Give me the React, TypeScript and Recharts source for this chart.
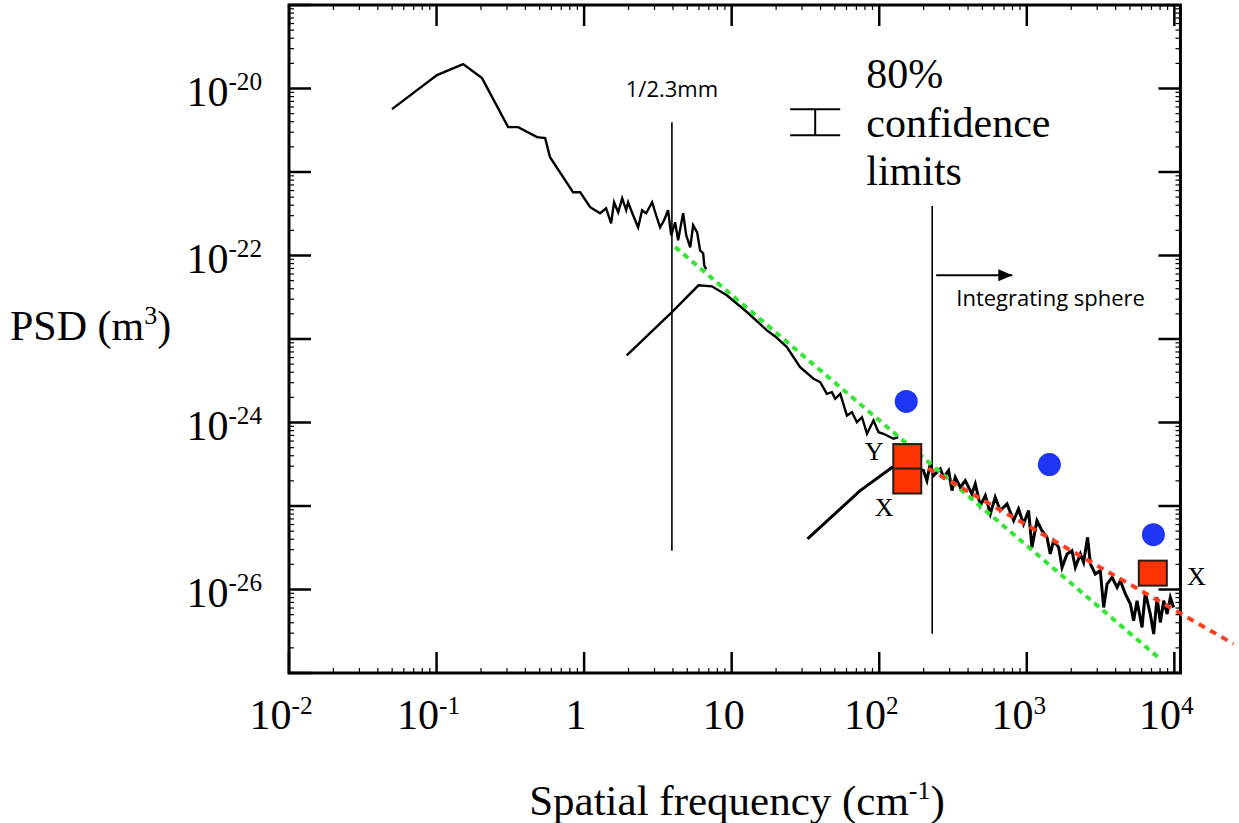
import { ComposedChart, Line, Scatter, XAxis, YAxis, ReferenceArea } from "recharts";

const SERIF = '"Liberation Serif", "Times New Roman", serif';
const SANS = '"Open Sans", "DejaVu Sans", sans-serif';

// All values are log10: spatial frequency (cm^-1) and PSD (m^3).
// large-scale profile
const wideLogF = [-1.302, -0.997, -0.82, -0.692, -0.515, -0.447, -0.319, -0.264, -0.231, -0.129, -0.075, -0.027, 0.041, 0.108, 0.149, 0.183, 0.203, 0.231, 0.258, 0.285, 0.298, 0.332, 0.366, 0.393, 0.42, 0.461, 0.488, 0.515, 0.542, 0.569, 0.59, 0.617, 0.637, 0.671, 0.692, 0.719, 0.739, 0.766, 0.786, 0.807, 0.814, 0.827];
const wideLogPsd = [-20.247, -19.839, -19.707, -19.875, -20.463, -20.463, -20.583, -20.595, -20.823, -21.098, -21.242, -21.242, -21.422, -21.494, -21.434, -21.614, -21.362, -21.482, -21.314, -21.458, -21.362, -21.518, -21.662, -21.458, -21.494, -21.362, -21.518, -21.662, -21.578, -21.458, -21.758, -21.602, -21.818, -21.494, -21.758, -21.902, -21.638, -21.722, -21.938, -21.974, -22.118, -22.165];

// mid-scale profile
const midLogF = [0.289, 0.595, 0.775, 0.866, 0.967, 1.103, 1.239, 1.295, 1.374, 1.464, 1.555, 1.6, 1.645, 1.679, 1.702, 1.736, 1.781, 1.815, 1.849, 1.883, 1.917, 1.961, 1.995, 2.029, 2.097, 2.129];
const midLogPsd = [-23.197, -22.677, -22.357, -22.369, -22.477, -22.677, -22.897, -22.969, -23.097, -23.337, -23.476, -23.517, -23.656, -23.637, -23.716, -23.656, -23.916, -23.876, -23.996, -23.936, -24.135, -23.976, -24.116, -24.135, -24.195, -24.176];

// fine-scale profile
const fineLogF = [1.514, 1.871, 2.086, 2.176, 2.3, 2.323, 2.346, 2.368, 2.414, 2.436, 2.47, 2.493, 2.515, 2.549, 2.583, 2.628, 2.651, 2.685, 2.719, 2.753, 2.786, 2.82, 2.866, 2.911, 2.944, 2.978, 3.012, 3.035, 3.069, 3.103, 3.137, 3.159, 3.182, 3.216, 3.239, 3.273, 3.306, 3.329, 3.363, 3.385, 3.412, 3.431, 3.464, 3.498, 3.521, 3.544, 3.578, 3.612, 3.634, 3.668, 3.702, 3.724, 3.747, 3.781, 3.803, 3.837, 3.86, 3.883, 3.905, 3.928, 3.951, 3.973, 3.995];
const fineLogPsd = [-25.394, -24.815, -24.539, -24.527, -24.575, -24.695, -24.495, -24.635, -24.555, -24.656, -24.575, -24.815, -24.656, -24.776, -24.695, -24.855, -24.735, -24.995, -24.875, -25.095, -24.896, -25.055, -24.975, -25.175, -25.035, -25.215, -25.055, -25.495, -25.175, -25.295, -25.375, -25.574, -25.415, -25.495, -25.735, -25.574, -25.535, -25.735, -25.574, -25.675, -25.375, -25.694, -25.814, -25.774, -26.215, -25.934, -25.855, -25.975, -25.894, -26.054, -26.174, -26.374, -26.134, -26.454, -26.035, -26.294, -26.533, -26.095, -26.394, -26.134, -26.294, -26.095, -26.215];

// power-law guides
const steepFitLogF = [0.617, 3.892];
const steepFitLogPsd = [-21.898, -26.814];
const shallowFitLogF = [2.332, 4.4];
const shallowFitLogPsd = [-24.552, -26.65];

// integrating sphere points and X/Y scan points
const sphereLogF = [2.183, 3.153, 3.858];
const sphereLogPsd = [-23.748, -24.504, -25.343];
const scanLogF = [2.19, 2.19, 3.854];
const scanLogPsd = [-24.408, -24.701, -25.804];

// vertical markers and arrow
const cutoffLogF = [0.595, 0.595];
const cutoffLogPsd = [-20.403, -25.535];
const sphereEdgeLogF = [2.359, 2.359];
const sphereEdgeLogPsd = [-21.406, -26.53];
const arrowLogF = [2.386, 2.902];
const arrowLogPsd = [-22.237, -22.237];
const limitsLogF = [1.566];
const limitsLogPsd = [-20.403];

// annotation text anchors
const noteText = ["1/2.3mm", "80%", "confidence", "limits", "Integrating sphere", "Y", "X", "X"];
const noteLogF = [0.595, 1.912, 1.912, 1.912, 2.522, 1.966, 2.034, 4.149];
const noteLogPsd = [-20.103, -19.995, -20.583, -21.158, -22.609, -24.455, -25.115, -25.942];
const noteKind = ["sansMid", "serif", "serif", "serif", "sans", "tag", "tag", "tag"];

// axes
const X_MAJOR = [1e-2, 1e-1, 1, 10, 1e2, 1e3, 1e4];
const X_LABELS = ["10^-2", "10^-1", "1", "10", "10^2", "10^3", "10^4"];
const Y_MAJOR = [1e-19, 1e-20, 1e-21, 1e-22, 1e-23, 1e-24, 1e-25, 1e-26, 1e-27];
const Y_LABELED = [1e-20, 1e-22, 1e-24, 1e-26];
const Y_LABELS = ["10^-20", "10^-22", "10^-24", "10^-26"];

const X_MIN = 1e-2;
const X_MAX = 2.7e4; // plot runs past the frame so the f^-1 guide can spill out
const FRAME_X = 1.1e4;
const Y_MIN = 1e-27;
const Y_MAX = 1e-19;

const NOTE_STYLE: Record<string, { font: string; size: number; anchor: string }> = {
  sansMid: { font: SANS, size: 22, anchor: "middle" },
  sans: { font: SANS, size: 22, anchor: "start" },
  serif: { font: SERIF, size: 42, anchor: "start" },
  tag: { font: SERIF, size: 26, anchor: "middle" },
};

const near = (a: number, b: number) => Math.abs(Math.log10(a) - Math.log10(b)) < 1e-6;
const toPoints = (lf: number[], lp: number[]) => lf.map((v, i) => ({ f: Math.pow(10, v), p: Math.pow(10, lp[i]) }));

const withMinors = (majors: number[]) => {
  const sorted = [...majors].sort((a, b) => a - b);
  const out = [...sorted];
  for (let i = 0; i < sorted.length - 1; i++) {
    for (let k = 2; k <= 9; k++) out.push(sorted[i] * k);
  }
  return out;
};

const xTicks = withMinors(X_MAJOR);
const yTicks = withMinors(Y_MAJOR);

const power = (label: string, size: number) => {
  const [base, exp] = label.split("^");
  return (
    <>
      <tspan>{base}</tspan>
      {exp && (
        <tspan dy={-size * 0.36} fontSize={size * 0.6}>
          {exp}
        </tspan>
      )}
    </>
  );
};

const XTick = ({ x, y, payload }: any) => {
  const i = X_MAJOR.findIndex((m) => near(m, payload.value));
  const major = i >= 0;
  return (
    <g>
      <line x1={x} x2={x} y1={y} y2={y - (major ? 21 : 5)} stroke="#000" strokeWidth={major ? 2.5 : 1.2} />
      {major && (
        <text x={x - 8} y={y + 56} textAnchor="middle" fontFamily={SERIF} fontSize={42} fill="#000">
          {power(X_LABELS[i], 42)}
        </text>
      )}
    </g>
  );
};

const YTick = ({ x, y, payload }: any) => {
  const major = Y_MAJOR.some((m) => near(m, payload.value));
  const li = Y_LABELED.findIndex((m) => near(m, payload.value));
  return (
    <g>
      <line x1={x} x2={x + (major ? 22 : 5)} y1={y} y2={y} stroke="#000" strokeWidth={major ? 2.5 : 1.2} />
      {li >= 0 && (
        <text x={x - 27} y={y + 17} textAnchor="end" fontFamily={SERIF} fontSize={42} fill="#000">
          {power(Y_LABELS[li], 42)}
        </text>
      )}
    </g>
  );
};

const wide = toPoints(wideLogF, wideLogPsd);
const mid = toPoints(midLogF, midLogPsd);
const fine = toPoints(fineLogF, fineLogPsd);
const steepFit = toPoints(steepFitLogF, steepFitLogPsd);
const shallowFit = toPoints(shallowFitLogF, shallowFitLogPsd);
const spheres = toPoints(sphereLogF, sphereLogPsd);
const scans = toPoints(scanLogF, scanLogPsd);
const cutoff = toPoints(cutoffLogF, cutoffLogPsd);
const sphereEdge = toPoints(sphereEdgeLogF, sphereEdgeLogPsd);
const arrow = toPoints(arrowLogF, arrowLogPsd);
const arrowTip = arrow.slice(1);
const limits = toPoints(limitsLogF, limitsLogPsd);
const notes = toPoints(noteLogF, noteLogPsd).map((pt, i) => ({ ...pt, text: noteText[i], kind: noteKind[i] }));

const topTicks = xTicks.map((v) => ({ f: v, p: Y_MAX, major: X_MAJOR.some((m) => near(m, v)) }));
const rightTicks = yTicks.map((v) => ({ f: FRAME_X, p: v, major: Y_MAJOR.some((m) => near(m, v)) }));

const pick = (s: any, key: string) => (s.payload && s.payload[key] !== undefined ? s.payload[key] : s[key]);

export default function App() {
  return (
    <div style={{ position: "absolute", left: 0, top: 0, background: "#fff" }}>
      <ComposedChart width={1239} height={823} margin={{ top: 5, right: 1, bottom: 90, left: 169 }}>
        <XAxis
          dataKey="f"
          type="number"
          scale="log"
          domain={[X_MIN, X_MAX]}
          allowDataOverflow
          ticks={xTicks}
          interval={0}
          tick={XTick}
          tickSize={0}
          tickMargin={0}
          axisLine={false}
          tickLine={false}
          height={60}
          label={() => (
            <text x={737} y={815} textAnchor="middle" fontFamily={SERIF} fontSize={43} fill="#000">
              Spatial frequency (cm
              <tspan dy={-16} fontSize={26}>-1</tspan>
              <tspan dy={16}>)</tspan>
            </text>
          )}
        />
        <YAxis
          dataKey="p"
          type="number"
          scale="log"
          domain={[Y_MIN, Y_MAX]}
          allowDataOverflow
          ticks={yTicks}
          interval={0}
          tick={YTick}
          tickSize={0}
          tickMargin={0}
          axisLine={false}
          tickLine={false}
          width={120}
          label={() => (
            <text x={10} y={340} fontFamily={SERIF} fontSize={42} fill="#000">
              PSD (m
              <tspan dy={-16} fontSize={26}>3</tspan>
              <tspan dy={16}>)</tspan>
            </text>
          )}
        />

        <ReferenceArea
          x1={X_MIN}
          x2={FRAME_X}
          y1={Y_MIN}
          y2={Y_MAX}
          stroke="#000"
          strokeWidth={3}
          fill="none"
          fillOpacity={0}
          ifOverflow="visible"
        />

        <Line data={cutoff} dataKey="p" stroke="#000" strokeWidth={1.6} dot={false} isAnimationActive={false} type="linear" />
        <Line data={sphereEdge} dataKey="p" stroke="#000" strokeWidth={1.6} dot={false} isAnimationActive={false} type="linear" />
        <Line data={arrow} dataKey="p" stroke="#000" strokeWidth={2} dot={false} isAnimationActive={false} type="linear" />

        <Line data={wide} dataKey="p" stroke="#000" strokeWidth={2.4} dot={false} isAnimationActive={false} type="linear" />
        <Line data={mid} dataKey="p" stroke="#000" strokeWidth={2.4} dot={false} isAnimationActive={false} type="linear" />
        <Line data={fine} dataKey="p" stroke="#000" strokeWidth={3} dot={false} isAnimationActive={false} type="linear" />

        <Line data={steepFit} dataKey="p" stroke="#33e633" strokeWidth={4} strokeDasharray="6 5" dot={false} isAnimationActive={false} type="linear" />
        <Line data={shallowFit} dataKey="p" stroke="#ff3d1f" strokeWidth={4} strokeDasharray="7 6" dot={false} isAnimationActive={false} type="linear" />

        <Scatter
          data={arrowTip}
          isAnimationActive={false}
          shape={(s: any) => <path d={`M${s.cx},${s.cy} L${s.cx - 14},${s.cy - 6} L${s.cx - 14},${s.cy + 6} Z`} fill="#000" />}
        />
        <Scatter
          data={spheres}
          isAnimationActive={false}
          shape={(s: any) => <circle cx={s.cx} cy={s.cy} r={11.5} fill="#1f35f5" />}
        />
        <Scatter
          data={scans}
          isAnimationActive={false}
          shape={(s: any) => (
            <rect x={s.cx - 14} y={s.cy - 12.5} width={28} height={25} fill="#ff3300" stroke="#2a1a10" strokeWidth={2} />
          )}
        />
        <Scatter
          data={limits}
          isAnimationActive={false}
          shape={(s: any) => (
            <g stroke="#000" strokeWidth={2}>
              <line x1={s.cx - 25} x2={s.cx + 25} y1={s.cy - 13} y2={s.cy - 13} />
              <line x1={s.cx - 25} x2={s.cx + 25} y1={s.cy + 13} y2={s.cy + 13} />
              <line x1={s.cx} x2={s.cx} y1={s.cy - 13} y2={s.cy + 13} />
            </g>
          )}
        />
        <Scatter
          data={notes}
          isAnimationActive={false}
          shape={(s: any) => {
            const st = NOTE_STYLE[pick(s, "kind")];
            return (
              <text x={s.cx} y={s.cy} textAnchor={st.anchor} fontFamily={st.font} fontSize={st.size} fill="#000">
                {pick(s, "text")}
              </text>
            );
          }}
        />

        <Scatter
          data={topTicks}
          isAnimationActive={false}
          shape={(s: any) => {
            const major = pick(s, "major");
            return <line x1={s.cx} x2={s.cx} y1={s.cy} y2={s.cy + (major ? 21 : 5)} stroke="#000" strokeWidth={major ? 2.5 : 1.2} />;
          }}
        />
        <Scatter
          data={rightTicks}
          isAnimationActive={false}
          shape={(s: any) => {
            const major = pick(s, "major");
            return <line x1={s.cx} x2={s.cx - (major ? 22 : 5)} y1={s.cy} y2={s.cy} stroke="#000" strokeWidth={major ? 2.5 : 1.2} />;
          }}
        />
      </ComposedChart>
    </div>
  );
}
